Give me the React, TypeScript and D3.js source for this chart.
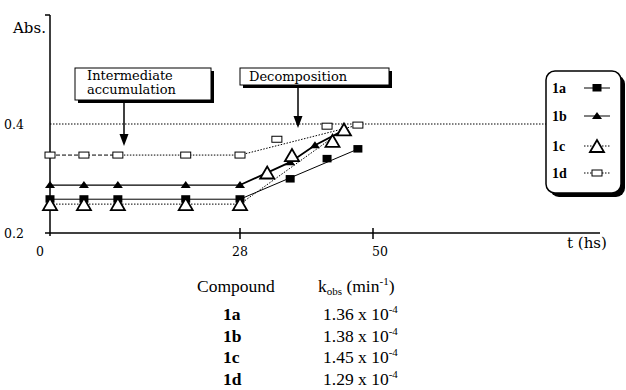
import * as d3 from 'd3';

// Time (hs) and absorbance for each compound
const t1a = [0, 5, 10, 20, 28, 36.3, 42.4, 47.5];
const abs1a = [0.262, 0.262, 0.262, 0.262, 0.262, 0.299, 0.336, 0.354];

const t1b = [0, 5, 10, 20, 28, 36.3, 40.4, 44.9];
const abs1b = [0.288, 0.288, 0.288, 0.288, 0.288, 0.33, 0.361, 0.387];

const t1c = [0, 5, 10, 20, 28, 32.5, 36.6, 43.3, 45.2];
const abs1c = [0.253, 0.253, 0.253, 0.253, 0.253, 0.311, 0.343, 0.369, 0.39];

const t1d = [0, 5, 10, 20, 28, 34.1, 42.4, 47.5];
const abs1d = [0.343, 0.343, 0.343, 0.343, 0.343, 0.372, 0.396, 0.398];

const xTicks = [0, 28, 50];
const yTicks = [0.2, 0.4];
const refLevel = 0.4;

const compounds = ['1a', '1b', '1c', '1d'];
const kobsMantissa = ['1.36', '1.38', '1.45', '1.29'];
const kobsExp = ['-4', '-4', '-4', '-4'];

const W = 626;
const H = 390;

type Pt = { t: number; a: number };
const zip = (t: number[], a: number[]): Pt[] => t.map((v, i) => ({ t: v, a: a[i] }));

const serif = '"DejaVu Serif", serif';
const times = '"Liberation Serif", "Times New Roman", serif';

export default function App() {
    // broken time axis: 0-28 is drawn wider than 28-50
    const x = d3.scaleLinear().domain([0, 28, 50, 87.5]).range([50, 240, 373, 600]);
    const y = d3.scaleLinear().domain([0.2, 0.6]).range([233, 15]);

    const line = d3
        .line<Pt>()
        .x((d) => x(d.t))
        .y((d) => y(d.a));

    const d1a = zip(t1a, abs1a);
    const d1b = zip(t1b, abs1b);
    const d1c = zip(t1c, abs1c);
    const d1d = zip(t1d, abs1d);

    const plateau = (d: Pt[]) => d.filter((p) => p.t <= 28);
    const rise = (d: Pt[]) => [d.filter((p) => p.t <= 28).pop()!, d[d.length - 1]];

    const square = (p: Pt, i: number) => (
        <rect key={i} x={x(p.t) - 4.5} y={y(p.a) - 4} width={9} height={7.5} fill="#000" />
    );
    const smallTri = (p: Pt, i: number) => {
        const cx = x(p.t), cy = y(p.a);
        return <path key={i} d={`M${cx - 5},${cy + 3}L${cx},${cy - 4}L${cx + 5},${cy + 3}Z`} fill="#000" />;
    };
    const openTri = (p: Pt, i: number) => {
        const cx = x(p.t), cy = y(p.a);
        return (
            <path key={i} d={`M${cx - 7},${cy + 6}L${cx},${cy - 6}L${cx + 7},${cy + 6}Z`}
                fill="#fff" stroke="#000" strokeWidth={1.8} strokeLinejoin="miter" />
        );
    };
    const openRect = (p: Pt, i: number) => (
        <rect key={i} x={x(p.t) - 5} y={y(p.a) - 3} width={10} height={6} fill="#fff" stroke="#000" strokeWidth={1} />
    );

    const legendY = [88, 116, 146, 173];

    return (
        <svg width={W} height={H} style={{ position: 'absolute', left: 0, top: 0, background: '#fff' }}>
            {/* reference line */}
            <line x1={x(0)} x2={546} y1={y(refLevel)} y2={y(refLevel)} stroke="#000" strokeWidth={1} strokeDasharray="1.5,1.5" />

            {/* axes */}
            <line x1={50} x2={50} y1={y(0.6)} y2={y(0.2) + 3} stroke="#000" strokeWidth={1.5} />
            <line x1={45} x2={50} y1={y(0.6)} y2={y(0.6)} stroke="#000" strokeWidth={1.5} />
            <line x1={45} x2={600} y1={y(0.2)} y2={y(0.2)} stroke="#000" strokeWidth={1.5} />
            {xTicks.slice(1).map((t) => (
                <line key={t} x1={x(t)} x2={x(t)} y1={y(0.2) - 5} y2={y(0.2) + 6} stroke="#000" strokeWidth={1.5} />
            ))}
            {xTicks.map((t, i) => (
                <text key={t} x={x(t) + (i === 0 ? -10 : i === 2 ? 7 : 0)} y={256} textAnchor="middle"
                    fontFamily={serif} fontSize={12.5}>{t}</text>
            ))}
            {yTicks.map((v) => (
                <text key={v} x={4} y={y(v) + 5} fontFamily={serif} fontSize={12.5}>{v.toFixed(1)}</text>
            ))}
            <text x={13} y={33} fontFamily={serif} fontSize={15}>Abs.</text>
            <text x={567} y={248} fontFamily={serif} fontSize={15}>t (hs)</text>

            {/* series lines */}
            <path d={line(plateau(d1a))!} fill="none" stroke="#000" strokeWidth={1} />
            <path d={line(rise(d1a))!} fill="none" stroke="#000" strokeWidth={1} />
            <path d={line(plateau(d1b))!} fill="none" stroke="#000" strokeWidth={1.3} />
            <path d={line(d1b.filter((p) => p.t >= 28))!} fill="none" stroke="#000" strokeWidth={1.8} />
            <path d={line(plateau(d1c))!} fill="none" stroke="#000" strokeWidth={1} strokeDasharray="1.5,1.5" />
            <path d={line(rise(d1c))!} fill="none" stroke="#000" strokeWidth={1} strokeDasharray="1.5,1.5" />
            <path d={line(d1d.filter((p) => p.t <= 10))!} fill="none" stroke="#000" strokeWidth={1} strokeDasharray="4,2" />
            <path d={line(d1d.filter((p) => p.t >= 10 && p.t <= 28))!} fill="none" stroke="#000" strokeWidth={1} strokeDasharray="1.5,1.5" />
            <path d={line(rise(d1d))!} fill="none" stroke="#000" strokeWidth={1} strokeDasharray="1.5,1.5" />

            {/* markers */}
            {d1d.map(openRect)}
            {d1b.map(smallTri)}
            {d1a.map(square)}
            {d1c.map(openTri)}

            {/* annotation: intermediate accumulation */}
            <rect x={78} y={71} width={136} height={32} fill="#000" />
            <rect x={75} y={68} width={136} height={32} fill="#fff" stroke="#000" strokeWidth={1} />
            <text x={87} y={80} fontFamily={serif} fontSize={13}>Intermediate</text>
            <text x={87} y={94} fontFamily={serif} fontSize={13}>accumulation</text>
            <line x1={124} x2={124} y1={100} y2={136} stroke="#000" strokeWidth={1.5} />
            <path d="M119.5,134L128.5,134L124,146Z" fill="#000" />

            {/* annotation: decomposition */}
            <rect x={243} y={71} width={149} height={17} fill="#000" />
            <rect x={240} y={68} width={149} height={17} fill="#fff" stroke="#000" strokeWidth={1} />
            <text x={249} y={81} fontFamily={serif} fontSize={13}>Decomposition</text>
            <line x1={298} x2={298} y1={85} y2={118} stroke="#000" strokeWidth={1.5} />
            <path d="M293.5,116L302.5,116L298,128Z" fill="#000" />

            {/* legend */}
            <rect x={550} y={75} width={75} height={122} rx={9} fill="#000" />
            <rect x={546} y={71} width={75} height={122} rx={9} fill="#fff" stroke="#000" strokeWidth={1.5} />
            {compounds.map((c, i) => {
                const ly = legendY[i];
                const p: Pt = { t: x.invert(597), a: y.invert(ly) };
                const dash = i >= 2 ? '1.5,1.5' : undefined;
                return (
                    <g key={c}>
                        <text x={552} y={ly + 4.5} fontFamily={times} fontWeight="bold" fontSize={14}>{c}</text>
                        <line x1={584} x2={610} y1={ly} y2={ly} stroke="#000" strokeWidth={1} strokeDasharray={dash} />
                        {i === 0 && square(p, 0)}
                        {i === 1 && smallTri(p, 0)}
                        {i === 2 && openTri(p, 0)}
                        {i === 3 && openRect(p, 0)}
                    </g>
                );
            })}

            {/* table */}
            <text x={197} y={292} fontFamily={times} fontSize={17.5}>Compound</text>
            <text x={318} y={292} fontFamily={times} fontSize={17.5}>
                k<tspan fontSize={11} dy={3}>obs</tspan>
                <tspan dy={-3}> (min</tspan>
                <tspan fontSize={11} dy={-7}>-1</tspan>
                <tspan dy={7}>)</tspan>
            </text>
            {compounds.map((c, i) => {
                const by = 320 + i * 21.7;
                return (
                    <g key={c}>
                        <text x={223} y={by} fontFamily={times} fontWeight="bold" fontSize={17.5}>{c}</text>
                        <text x={323} y={by} fontFamily={times} fontSize={17.5}>
                            {kobsMantissa[i]} x 10
                            <tspan fontSize={11} dy={-7}>{kobsExp[i]}</tspan>
                        </text>
                    </g>
                );
            })}
        </svg>
    );
}
